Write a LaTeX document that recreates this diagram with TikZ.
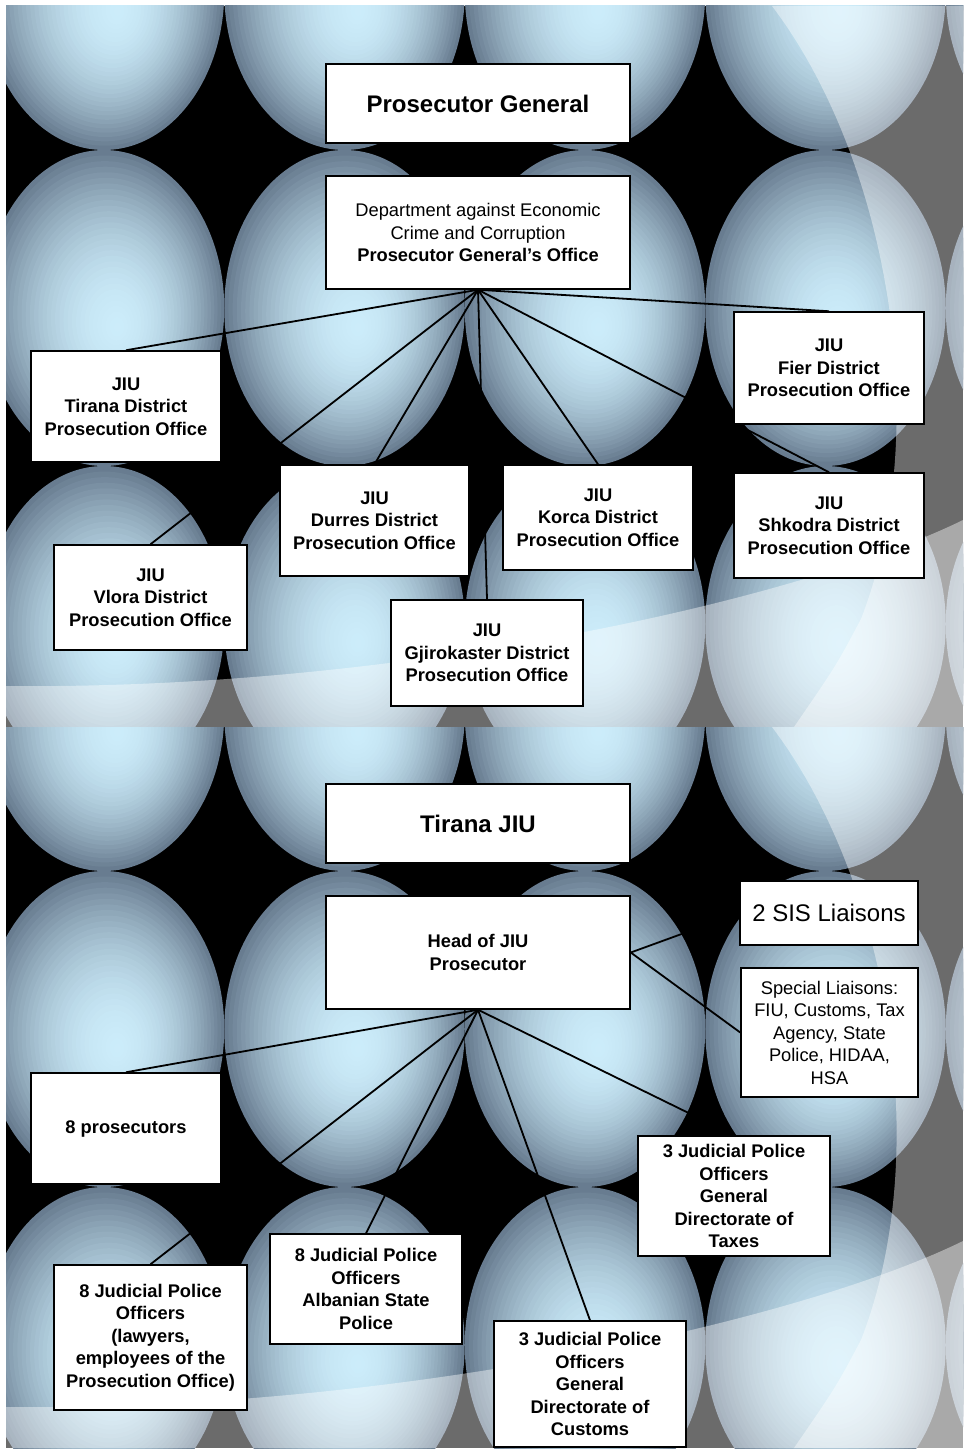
\documentclass[tikz,border=0pt]{standalone}
\usepackage{fontspec}
\setmainfont{Liberation Sans}
\definecolor{sphhi}{RGB}{204,236,250}
\definecolor{sphedge}{RGB}{104,124,144}
\pgfdeclarelayer{bg}
\pgfdeclarelayer{links}
\pgfsetlayers{bg,links,main}
\tikzset{
  orgbox/.style={draw, line width=1.5pt, fill=white, align=center, inner sep=0pt,
    font=\bfseries\fontsize{18.3}{22.5}\selectfont},
  plain/.style={font=\fontsize{18.3}{22.5}\selectfont},
  big/.style={font=\fontsize{24}{28}\selectfont},
  bigbold/.style={font=\bfseries\fontsize{24}{28}\selectfont},
  link/.style={line width=1.8pt},
}
% one slide of the theme background, top edge at y=#1
\newcommand{\slidebg}[1]{%
  \begin{scope}[shift={(6,#1)}]
    \clip (0,0) rectangle (957,721);
    \fill[black] (0,0) rectangle (957,721);
    \foreach \cx in {-142.5,98,338.5,579,819.5,1060}
      \foreach \cy in {-14,302,618,934}
        \foreach \i in {0,...,31}{
          \pgfmathsetmacro\t{1-\i/32}
          \pgfmathsetmacro\p{100*(1-\t*\t)}
          \fill[sphhi!\p!sphedge] ({\cx+14-14*\t},{\cy+20-20*\t})
            ellipse [x radius={120.25*\t}, y radius={158*\t}];
        }
    \fill[white, fill opacity=.42] (766,0) .. controls (880,150) and (930,420) .. (855,613)
      .. controls (830,660) .. (788,721) -- (957,721) -- (957,0) -- cycle;
    \fill[white, fill opacity=.42] (0,680) .. controls (394,684) and (794,594) .. (957,514)
      -- (957,721) -- (0,721) -- cycle;
  \end{scope}}

\begin{document}
\begin{tikzpicture}[x=1pt,y=-1pt]
\useasboundingbox (0,0) rectangle (968,1450);
\begin{pgfonlayer}{bg}
  \fill[white] (0,0) rectangle (968,1450);
  \slidebg{6}
  \slidebg{727}
\end{pgfonlayer}

% slide 1: districts
\node[orgbox, bigbold, minimum width=304pt, minimum height=79pt] (pg) at (478,103.5) {Prosecutor General};
\node[orgbox, plain, minimum width=304pt, minimum height=113pt] (dep) at (478,232.5)
  {Department against Economic\\Crime and Corruption\\\textbf{Prosecutor General’s Office}};
\node[orgbox, minimum width=190pt, minimum height=111pt] (tir) at (126,406.5) {JIU\\Tirana District\\Prosecution Office};
\node[orgbox, minimum width=190pt, minimum height=112pt] (fier) at (829,368) {JIU\\Fier District\\Prosecution Office};
\node[orgbox, minimum width=189pt, minimum height=111pt] (dur) at (374.5,520.5) {JIU\\Durres District\\Prosecution Office};
\node[orgbox, minimum width=190pt, minimum height=105pt] (kor) at (598,517.5) {JIU\\Korca District\\Prosecution Office};
\node[orgbox, minimum width=190pt, minimum height=105pt] (shk) at (829,525.5) {JIU\\Shkodra District\\Prosecution Office};
\node[orgbox, minimum width=193pt, minimum height=105pt] (vlo) at (150.5,597.5) {JIU\\Vlora District\\Prosecution Office};
\node[orgbox, minimum width=192pt, minimum height=106pt] (gji) at (487,653) {JIU\\Gjirokaster District\\Prosecution Office};

% slide 2: Tirana JIU
\node[orgbox, bigbold, minimum width=304pt, minimum height=79pt] (tjiu) at (478,823.5) {Tirana JIU};
\node[orgbox, minimum width=304pt, minimum height=113pt] (head) at (478,952.5) {Head of JIU\\Prosecutor};
\node[orgbox, big, minimum width=178pt, minimum height=64pt] (sis) at (829,913) {2 SIS Liaisons};
\node[orgbox, plain, minimum width=177pt, minimum height=129pt] (spec) at (829.5,1032.5)
  {Special Liaisons:\\FIU, Customs, Tax\\Agency, State\\Police, HIDAA,\\HSA};
\node[orgbox, minimum width=190pt, minimum height=111pt] (pros) at (126,1128.5) {8 prosecutors};
\node[orgbox, minimum width=193pt, minimum height=145pt] (jpl) at (150.5,1337.5)
  {8 Judicial Police\\Officers\\(lawyers,\\employees of the\\Prosecution Office)};
\node[orgbox, minimum width=192pt, minimum height=110pt] (jpa) at (366,1289)
  {8 Judicial Police\\Officers\\Albanian State\\Police};
\node[orgbox, minimum width=192pt, minimum height=120pt] (jpt) at (734,1196)
  {3 Judicial Police\\Officers\\General\\Directorate of\\Taxes};
\node[orgbox, minimum width=192pt, minimum height=126pt] (jpc) at (590,1384)
  {3 Judicial Police\\Officers\\General\\Directorate of\\Customs};

\begin{pgfonlayer}{links}
  \foreach \b in {tir,fier,vlo,dur,gji,kor,shk}
    \draw[link] (dep.south) -- (\b.north);
  \foreach \b in {pros,jpl,jpa,jpc,jpt}
    \draw[link] (head.south) -- (\b.north);
  \draw[link] (head.east) -- (sis.west);
  \draw[link] (head.east) -- (spec.west);
\end{pgfonlayer}
\end{tikzpicture}
\end{document}
